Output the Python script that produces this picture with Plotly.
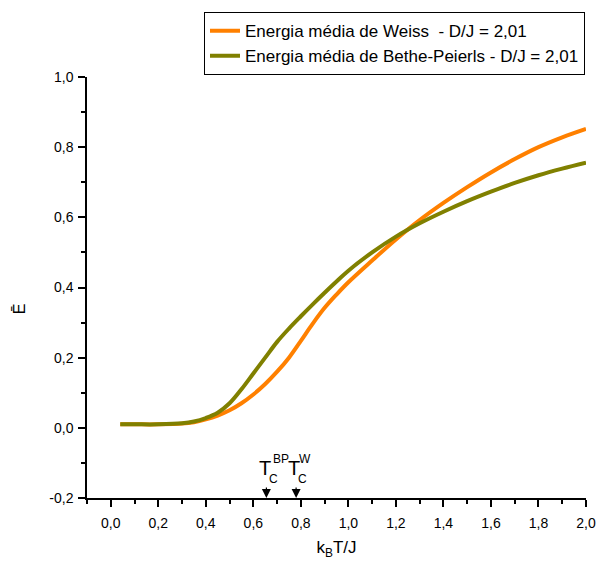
import plotly.graph_objects as go

# Mean energy vs reduced temperature, D/J = 2.01
kT_weiss = [0.04, 0.1, 0.2, 0.3, 0.35, 0.4, 0.45, 0.5, 0.55, 0.6, 0.65, 0.7, 0.75,
            0.8, 0.85, 0.9, 0.95, 1.0, 1.1, 1.2, 1.3, 1.4, 1.5, 1.6, 1.7, 1.8, 1.9, 2.0]
E_weiss = [0.010, 0.010, 0.010, 0.012, 0.016, 0.024, 0.035, 0.050, 0.070, 0.095, 0.125,
           0.160, 0.200, 0.248, 0.297, 0.342, 0.380, 0.415, 0.477, 0.537, 0.592, 0.641,
           0.686, 0.728, 0.766, 0.800, 0.828, 0.852]

kT_bp = [0.04, 0.1, 0.2, 0.3, 0.35, 0.4, 0.45, 0.5, 0.55, 0.6, 0.65, 0.7, 0.75,
         0.8, 0.85, 0.9, 0.95, 1.0, 1.1, 1.2, 1.3, 1.4, 1.5, 1.6, 1.7, 1.8, 1.9, 2.0]
E_bp = [0.010, 0.010, 0.010, 0.013, 0.018, 0.028, 0.043, 0.070, 0.110, 0.155, 0.200,
        0.245, 0.283, 0.318, 0.352, 0.385, 0.417, 0.448, 0.500, 0.545, 0.583, 0.616,
        0.646, 0.673, 0.698, 0.720, 0.739, 0.756]

# critical temperatures marked on the axis
Tc_bp = 0.655
Tc_w = 0.78

x_ticks = [0.0, 0.2, 0.4, 0.6, 0.8, 1.0, 1.2, 1.4, 1.6, 1.8, 2.0]
x_labels = ["0,0", "0,2", "0,4", "0,6", "0,8", "1,0", "1,2", "1,4", "1,6", "1,8", "2,0"]
x_minor = [-0.1, 0.1, 0.3, 0.5, 0.7, 0.9, 1.1, 1.3, 1.5, 1.7, 1.9]
y_ticks = [-0.2, 0.0, 0.2, 0.4, 0.6, 0.8, 1.0]
y_labels = ["-0,2", "0,0", "0,2", "0,4", "0,6", "0,8", "1,0"]
y_minor = [-0.1, 0.1, 0.3, 0.5, 0.7, 0.9]

FONT = "Liberation Sans, Arial, sans-serif"

fig = go.Figure()
fig.add_trace(go.Scatter(
    x=kT_weiss, y=E_weiss, mode="lines",
    name="Energia média de Weiss\u00a0\u00a0- D/J = 2,01",
    line=dict(color="#FF8000", width=4, shape="spline", smoothing=1.0),
))
fig.add_trace(go.Scatter(
    x=kT_bp, y=E_bp, mode="lines",
    name="Energia média de Bethe-Peierls - D/J = 2,01",
    line=dict(color="#808000", width=4, shape="spline", smoothing=1.0),
))

annotations = []
# arrows pointing at the critical temperatures
for tc in (Tc_bp, Tc_w):
    annotations.append(dict(
        x=tc, y=-0.2, xref="x", yref="y", text=" ", showarrow=True,
        ax=0, ay=-20, arrowhead=2, arrowsize=1.5, arrowwidth=1.2, arrowcolor="black",
    ))
# labels T_C^BP and T_C^W
for tc, sup, sup_dx in ((Tc_bp, "BP", 0.062), (Tc_w, "W", 0.036)):
    annotations.append(dict(x=tc - 0.008, y=-0.114, xref="x", yref="y", text="T",
                            showarrow=False, font=dict(family=FONT, size=20, color="black"),
                            xanchor="center", yanchor="middle"))
    annotations.append(dict(x=tc + sup_dx, y=-0.090, xref="x", yref="y", text=sup,
                            showarrow=False, font=dict(family=FONT, size=12, color="black"),
                            xanchor="center", yanchor="middle"))
    annotations.append(dict(x=tc + 0.028, y=-0.146, xref="x", yref="y", text="C",
                            showarrow=False, font=dict(family=FONT, size=12, color="black"),
                            xanchor="center", yanchor="middle"))
# y axis title: mean energy
annotations.append(dict(x=-0.135, y=0.45, xref="paper", yref="paper", text="\u0112",
                        textangle=-90, showarrow=False,
                        font=dict(family=FONT, size=16, color="black"),
                        xanchor="center", yanchor="middle"))

fig.update_layout(
    width=608, height=568,
    margin=dict(l=87, r=16, t=75, b=70),
    paper_bgcolor="white", plot_bgcolor="white",
    font=dict(family=FONT, size=14, color="black"),
    showlegend=True,
    legend=dict(
        x=0.998, y=1.154, xanchor="right", yanchor="top",
        bordercolor="black", borderwidth=1, bgcolor="white",
        font=dict(family=FONT, size=17, color="black"),
        tracegroupgap=0, itemwidth=30,
    ),
    annotations=annotations,
)

fig.update_xaxes(
    range=[-0.1, 2.0], tickvals=x_ticks, ticktext=x_labels,
    showgrid=False, zeroline=False, showline=True, linecolor="black", linewidth=1.5,
    ticks="outside", ticklen=7, tickwidth=1.5, tickcolor="black",
    ticklabelstandoff=4,
    minor=dict(tickvals=x_minor, ticks="outside", ticklen=4, tickwidth=1.5,
               tickcolor="black"),
    title=dict(text="k<sub>B</sub>T/J", font=dict(family=FONT, size=17), standoff=12),
    tickfont=dict(family=FONT, size=14),
)
fig.update_yaxes(
    range=[-0.2, 1.0], tickvals=y_ticks, ticktext=y_labels,
    showgrid=False, zeroline=False, showline=True, linecolor="black", linewidth=1.5,
    ticks="outside", ticklen=7, tickwidth=1.5, tickcolor="black",
    ticklabelstandoff=2,
    minor=dict(tickvals=y_minor, ticks="outside", ticklen=4, tickwidth=1.5,
               tickcolor="black"),
    tickfont=dict(family=FONT, size=14),
)

fig.write_html("out.html")
